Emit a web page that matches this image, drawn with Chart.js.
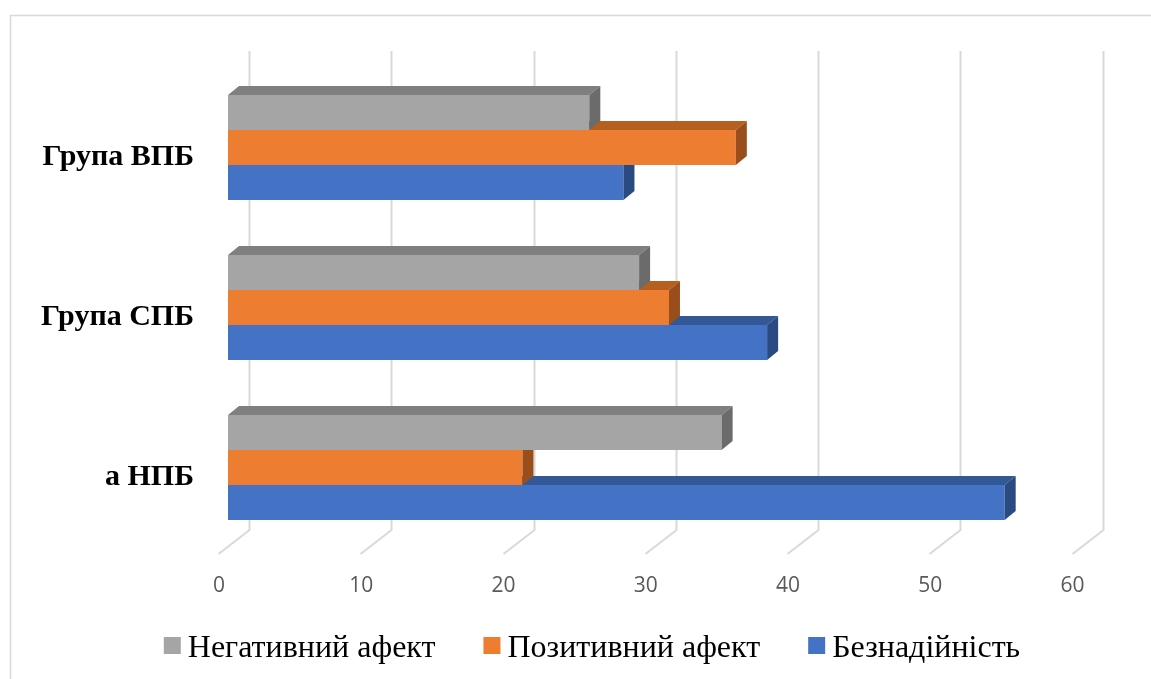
<!DOCTYPE html>
<html>
<head>
<meta charset="utf-8">
<script src="https://cdn.jsdelivr.net/npm/chart.js@4/dist/chart.umd.min.js"></script>
<style>
  html, body { margin: 0; padding: 0; background: #ffffff; }
  #wrap { width: 1151px; height: 679px; }
</style>
</head>
<body>
<div id="wrap"><canvas id="chart" width="1151" height="679"></canvas></div>
<script>
// Categories and series values
const categories = ['Група ВПБ', 'Група СПБ', 'а НПБ'];
const seriesNames = ['Негативний афект', 'Позитивний афект', 'Безнадійність'];
const negativeAffect = [25.4, 28.9, 34.7];
const positiveAffect = [35.7, 31.0, 20.7];
const hopelessness = [27.8, 37.9, 54.6];
const valueTicks = [0, 10, 20, 30, 40, 50, 60];

// Front / top / side shades of each series
const faceColors = [
  { front: '#A5A5A5', top: '#7F7F7F', side: '#6B6B6B' },
  { front: '#ED7D31', top: '#B5601F', side: '#9A4E1C' },
  { front: '#4472C4', top: '#325895', side: '#2A4A82' }
];

const DEPTH_X = 11, DEPTH_Y = 9;      // bar depth projection
const WALL_SHIFT = 21;                // back wall relative to bar front plane
const FLOOR_X = -31, FLOOR_Y = 24;    // floor depth projection
const GRID_COLOR = '#D9D9D9';

const depthPlugin = {
  id: 'depth3d',
  beforeDraw(chart) {
    const ctx = chart.ctx;
    ctx.save();
    ctx.strokeStyle = '#D9D9D9';
    ctx.lineWidth = 1.5;
    ctx.beginPath();
    ctx.moveTo(10.5, chart.height);
    ctx.lineTo(10.5, 15.5);
    ctx.lineTo(chart.width, 15.5);
    ctx.stroke();
    ctx.restore();
  },
  beforeDatasetsDraw(chart) {
    const ctx = chart.ctx;
    const xs = chart.scales.x;
    const area = chart.chartArea;
    const wallTop = area.top - 16.5;
    const wallBottom = area.bottom - 17.5;
    ctx.save();
    ctx.strokeStyle = GRID_COLOR;
    ctx.lineWidth = 2;
    valueTicks.forEach(v => {
      const xb = Math.round(xs.getPixelForValue(v) + WALL_SHIFT) + 0.5;
      ctx.beginPath();
      ctx.moveTo(xb, wallTop);
      ctx.lineTo(xb, wallBottom);
      ctx.lineTo(xb + FLOOR_X, wallBottom + FLOOR_Y);
      ctx.stroke();
    });
    ctx.fillStyle = '#595959';
    ctx.font = '21px "Open Sans"';
    ctx.textAlign = 'center';
    ctx.textBaseline = 'middle';
    valueTicks.forEach(v => {
      const xb = xs.getPixelForValue(v) + WALL_SHIFT + FLOOR_X + 1;
      ctx.fillText(String(v), xb, wallBottom + FLOOR_Y + 32);
    });
    ctx.restore();
  },
  afterDatasetDraw(chart, args) {
    const ctx = chart.ctx;
    const colors = faceColors[args.index];
    ctx.save();
    args.meta.data.forEach(el => {
      const p = el.getProps(['x', 'y', 'base', 'height'], true);
      const left = Math.min(p.x, p.base);
      const right = Math.max(p.x, p.base);
      const top = p.y - p.height / 2;
      const bottom = p.y + p.height / 2;
      // top face
      ctx.fillStyle = colors.top;
      ctx.beginPath();
      ctx.moveTo(left, top);
      ctx.lineTo(left + DEPTH_X, top - DEPTH_Y);
      ctx.lineTo(right + DEPTH_X, top - DEPTH_Y);
      ctx.lineTo(right, top);
      ctx.closePath();
      ctx.fill();
      // end face
      ctx.fillStyle = colors.side;
      ctx.beginPath();
      ctx.moveTo(right, top);
      ctx.lineTo(right + DEPTH_X, top - DEPTH_Y);
      ctx.lineTo(right + DEPTH_X, bottom - DEPTH_Y);
      ctx.lineTo(right, bottom);
      ctx.closePath();
      ctx.fill();
    });
    ctx.restore();
  },
  afterDraw(chart) {
    const ctx = chart.ctx;
    const box = 17, boxGap = 7, itemGap = 48, centerX = 592;
    ctx.save();
    ctx.font = '32px "Liberation Serif"';
    ctx.textBaseline = 'alphabetic';
    ctx.textAlign = 'left';
    const widths = seriesNames.map(n => ctx.measureText(n).width);
    const total = widths.reduce((a, w) => a + box + boxGap + w, 0) + itemGap * (seriesNames.length - 1);
    let x = centerX - total / 2;
    seriesNames.forEach((name, i) => {
      ctx.fillStyle = faceColors[i].front;
      ctx.fillRect(x, 637, box, box);
      ctx.fillStyle = '#000000';
      ctx.fillText(name, x + box + boxGap, 657);
      x += box + boxGap + widths[i] + itemGap;
    });
    ctx.restore();
  }
};

const datasets = [negativeAffect, positiveAffect, hopelessness].map((values, i) => ({
  label: seriesNames[i],
  data: values,
  backgroundColor: faceColors[i].front,
  borderWidth: 0,
  categoryPercentage: 0.65625,
  barPercentage: 1.0
}));

new Chart(document.getElementById('chart'), {
  type: 'bar',
  data: { labels: categories, datasets },
  plugins: [depthPlugin],
  options: {
    indexAxis: 'y',
    responsive: false,
    animation: false,
    events: [],
    layout: { padding: { left: 10, right: 69.5, top: 67.5, bottom: 131.5 } },
    plugins: { legend: { display: false }, tooltip: { enabled: false } },
    scales: {
      x: { min: 0, max: 60, display: false },
      y: {
        position: 'left',
        grid: { display: false, drawTicks: false },
        border: { display: false },
        ticks: {
          color: '#000000',
          font: { family: '"Liberation Serif"', size: 30, weight: 'bold' },
          padding: 34,
          labelOffset: 10
        },
        afterFit(scale) { scale.width = 218; }
      }
    }
  }
});
</script>
</body>
</html>
